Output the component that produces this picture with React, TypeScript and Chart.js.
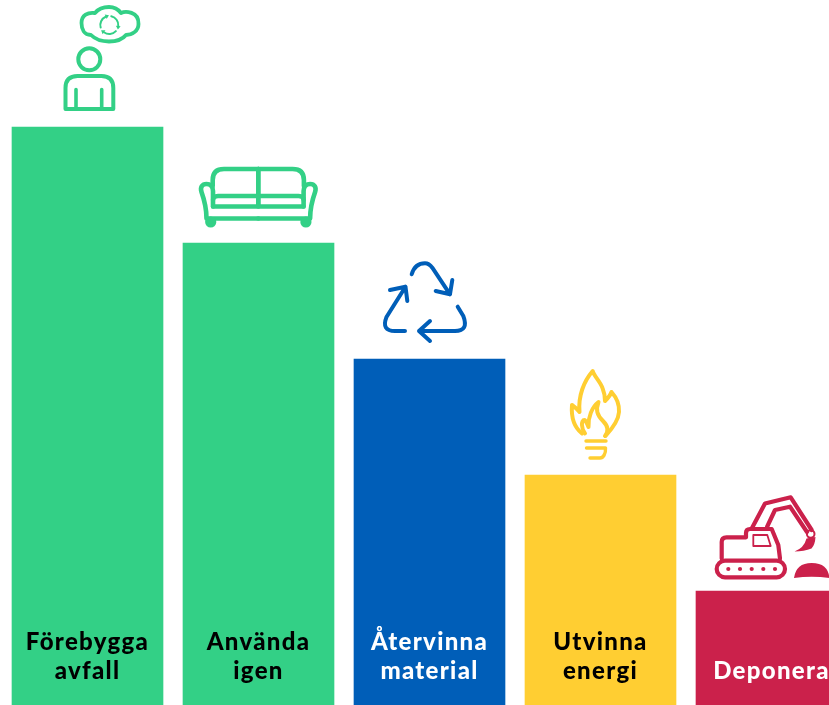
import React, { useEffect, useRef } from "react";
import { Chart, registerables } from "chart.js";

Chart.register(...registerables);

// Categories (two-line labels; a blank first line keeps single-line labels on the lower row)
const categories: string[][] = [
  ["Förebygga", "avfall"],
  ["Använda", "igen"],
  ["Återvinna", "material"],
  ["Utvinna", "energi"],
  ["", "Deponera"],
];
const heights: number[] = [578, 462, 346, 230, 114];
const barColors: string[] = ["#33D086", "#33D086", "#005EB8", "#FFCE32", "#CB214B"];
const labelColors: string[] = ["#000000", "#000000", "#FFFFFF", "#000000", "#FFFFFF"];

const GREEN = barColors[0];
const BLUE = barColors[2];
const YELLOW = barColors[3];
const RED = barColors[4];

type Ctx = CanvasRenderingContext2D;

function stroke(ctx: Ctx, d: string, w: number) {
  ctx.lineWidth = w;
  ctx.stroke(new Path2D(d));
}

function person(ctx: Ctx) {
  ctx.strokeStyle = GREEN;
  ctx.fillStyle = GREEN;
  stroke(ctx, "M100.3 59.3 A11 11 0 1 1 78.3 59.3 A11 11 0 1 1 100.3 59.3 Z", 4);
  stroke(ctx, "M65.5 109 L65.5 88 Q65.5 76 77.5 76 L101.5 76 Q113.3 76 113.3 88 L113.3 109 Z", 4);
  stroke(ctx, "M76 89.5 L76 109 M101.7 89.5 L101.7 109", 3.6);
  stroke(
    ctx,
    "M91 35 C84 35 81.5 29 81.5 23 C81.5 15 88 12 95 13 C99 8 104 7 109 7 C114 7 118 9 121 13 C125 11 139 11 138.5 24 C138.5 31 132 35 126 35 C122 40 114 41.5 109 41.5 C104 41.5 96 40 91 35 Z",
    3.8
  );
  // small cycle arrows inside the cloud
  ctx.lineWidth = 2;
  const cx = 109.3;
  const cy = 25;
  [-1.35, 0.75, 2.85].forEach((a) => {
    ctx.beginPath();
    ctx.arc(cx, cy, 9, a, a + 1.45);
    ctx.stroke();
    const ex = cx + 9 * Math.cos(a + 1.45);
    const ey = cy + 9 * Math.sin(a + 1.45);
    const t = a + 1.45 + Math.PI / 2;
    ctx.beginPath();
    ctx.moveTo(ex + 3.6 * Math.cos(t), ey + 3.6 * Math.sin(t));
    ctx.lineTo(ex - 1.5 * Math.sin(t) * 1.6, ey + 1.5 * Math.cos(t) * 1.6);
    ctx.lineTo(ex + 1.5 * Math.sin(t) * 1.6, ey - 1.5 * Math.cos(t) * 1.6);
    ctx.closePath();
    ctx.fill();
  });
}

function sofa(ctx: Ctx) {
  ctx.strokeStyle = GREEN;
  ctx.fillStyle = GREEN;
  const half = () => {
    stroke(ctx, "M258.3 169 L224 169 Q212.7 169 212.7 180 L212.7 186", 4.6);
    stroke(
      ctx,
      "M213 206.5 L213 191 C213 186 210 184 206.5 184 C202 184 200 187.5 201.5 192 C204 199 206.5 207 206.5 218.5 L258.3 218.5",
      4.6
    );
    stroke(ctx, "M258.3 196 L218 196 Q213 196 213 200 M213 206.5 L258.3 206.5 M258.3 169 L258.3 206.5", 4.4);
    ctx.beginPath();
    ctx.arc(210.7, 222, 5.6, 0, Math.PI * 2);
    ctx.fill();
  };
  half();
  ctx.save();
  ctx.translate(516.6, 0);
  ctx.scale(-1, 1);
  half();
  ctx.restore();
}

function recycle(ctx: Ctx) {
  ctx.strokeStyle = BLUE;
  const w = 4;
  stroke(ctx, "M411.7 274.3 Q415 263.3 425 263.3 Q429 263.3 432.3 267.7 L450 294.3 M452.3 280 L450 294.3 L435.7 291", w);
  stroke(ctx, "M457.7 306.7 L463.3 316 Q469 331 455 331 L419 331 M430 321 L419 331 L430 341", w);
  stroke(ctx, "M405 331 L395 331 Q381 331 386.5 317 L405.5 286.7 M390 290 L405.5 286.7 L407.3 301", w);
}

function flame(ctx: Ctx) {
  ctx.strokeStyle = YELLOW;
  const w = 4;
  stroke(
    ctx,
    "M582 433.5 C575 428 571 418 572 405 C575 407 577 409 579.5 412 C578 396 584 381 592.7 371 C594 376 600 381 602.5 388 C604.5 393 605 397 605 401 C608 398 610.5 395 611.5 392 C616 397 619.5 404 619 412 C618.5 421 611 430 605.5 436",
    w
  );
  stroke(
    ctx,
    "M585 433.5 C581 428 581 420 584.5 420 C586 421 587 423 588.5 427 C588 417 592 407 598.5 402 C595.5 410 597 415 603 421 C608 426 609 431 605 436",
    w
  );
  stroke(ctx, "M586 441 L606 441 M586.5 448 L605.5 448 C606 454 603 458 600 458 L590 458", 3.4);
}

function excavator(ctx: Ctx) {
  ctx.strokeStyle = RED;
  ctx.fillStyle = RED;
  const w = 4.2;
  stroke(ctx, "M721.7 558.5 L721.7 542 Q721.7 537.3 726.5 537.3 L746 537.3 L746 533 Q746 529 750 529 L771.7 529 L778.3 545 L780 558.5", w);
  ctx.beginPath();
  ctx.roundRect(716.7, 560.7, 68.3, 16.6, 8.3);
  ctx.lineWidth = w;
  ctx.stroke();
  [728.3, 740, 751.7, 763.3, 775].forEach((x) => {
    ctx.beginPath();
    ctx.arc(x, 569, 2.1, 0, Math.PI * 2);
    ctx.fill();
  });
  stroke(ctx, "M753.3 535 L767.3 535 L770.7 546 L753.3 546 Z", 1.8);
  stroke(ctx, "M752 528 L765 503.5 L790.7 497.3 L811.7 530", w);
  stroke(ctx, "M767 527 L775 510 L790 506.7 L807 532", w);
  ctx.beginPath();
  ctx.arc(810.7, 534, 3.8, 0, Math.PI * 2);
  ctx.lineWidth = 2;
  ctx.stroke();
  ctx.fill(new Path2D("M806.5 538.5 L815.5 537 Q815 545 811.5 548.5 Q804 551.5 794.5 551.5 Q804 548 806.5 538.5 Z"));
  ctx.fill(new Path2D("M794 578 Q796 563 811.7 563 Q828 563 829.5 578 Q811.7 575.5 794 578 Z"));
}

const icons: ((ctx: Ctx) => void)[] = [person, sofa, recycle, flame, excavator];
const iconAnchors: [number, number][] = [
  [87.5, 127],
  [258.5, 243],
  [429.5, 359],
  [600.5, 475],
  [771.5, 591],
];

const iconPlugin = {
  id: "icons",
  beforeDraw(chart: Chart) {
    // the reference lettering is wider than Lato; open it up a little
    (chart.ctx as any).letterSpacing = "1.3px";
  },
  afterDatasetsDraw(chart: Chart) {
    const meta = chart.getDatasetMeta(0);
    const ctx = chart.ctx;
    meta.data.forEach((bar: any, i: number) => {
      ctx.save();
      ctx.lineCap = "round";
      ctx.lineJoin = "round";
      ctx.translate(bar.x - iconAnchors[i][0], bar.y - iconAnchors[i][1]);
      icons[i](ctx);
      ctx.restore();
    });
  },
};

export default function App() {
  const ref = useRef<HTMLCanvasElement | null>(null);
  useEffect(() => {
    if (!ref.current) return;
    const chart = new Chart(ref.current, {
      type: "bar",
      data: {
        labels: categories,
        datasets: [{ data: heights, backgroundColor: barColors, borderWidth: 0, barThickness: 151 }],
      },
      options: {
        animation: false,
        responsive: false,
        layout: { padding: { left: 2, right: 3, top: 0, bottom: 0 } },
        plugins: { legend: { display: false }, tooltip: { enabled: false } },
        scales: {
          x: {
            offset: true,
            border: { display: false },
            grid: { display: false, drawTicks: false },
            afterFit: (s: any) => {
              s.height = 0;
              s.paddingLeft = 0;
              s.paddingRight = 0;
            },
            ticks: {
              z: 1,
              autoSkip: false,
              maxRotation: 0,
              minRotation: 0,
              mirror: true,
              padding: 48,
              color: (c: any) => labelColors[c.index],
              font: { family: "Lato", weight: "900", size: 24, lineHeight: 1.2 },
            },
          },
          y: { display: false, min: 0, max: 705 },
        },
      },
      plugins: [iconPlugin],
    } as any);
    return () => chart.destroy();
  }, []);
  return (
    <div style={{ position: "fixed", left: 0, top: 0, width: 829, height: 705, overflow: "hidden", background: "#fff" }}>
      <canvas ref={ref} width={860} height={705} style={{ display: "block", width: 860, height: 705 }} />
    </div>
  );
}
